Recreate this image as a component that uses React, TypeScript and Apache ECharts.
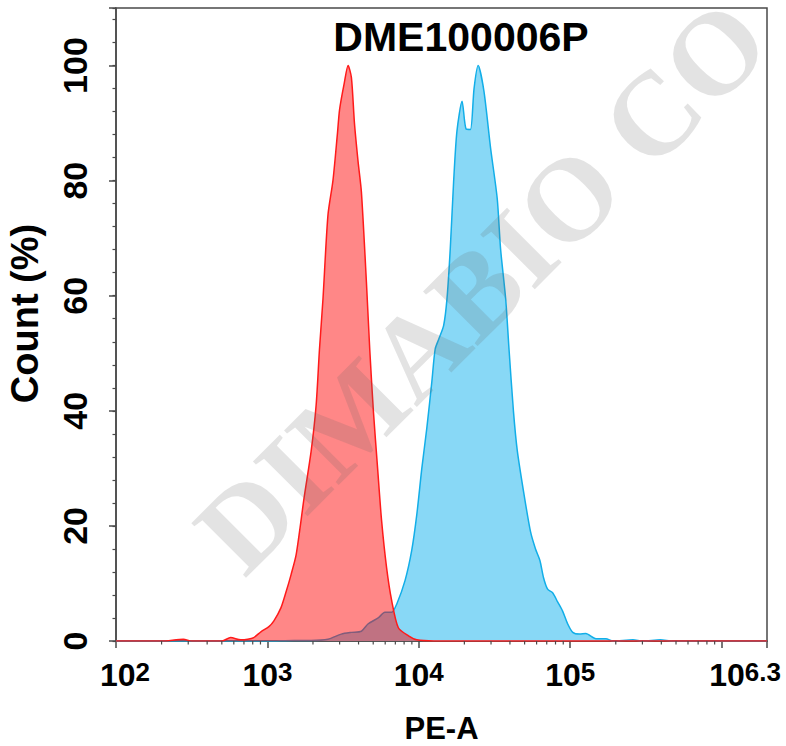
import React, { useEffect, useRef } from 'react';
import * as echarts from 'echarts';

// x values are log10(PE-A); y values are Count (%)
const redLog = [2.0, 2.3, 2.445, 2.5, 2.56, 2.7, 2.757, 2.824, 2.87, 2.91, 2.957, 3.01, 3.043, 3.09, 3.123, 3.156, 3.19, 3.243, 3.289, 3.322, 3.344, 3.367, 3.4, 3.433, 3.462, 3.477, 3.508, 3.533, 3.555, 3.575, 3.599, 3.621, 3.654, 3.676, 3.7, 3.728, 3.754, 3.787, 3.821, 3.865, 3.932, 3.987, 4.1, 5.0, 6.3];
const redCount = [0, 0, 0.3, 0, 0, 0, 0.6, 0.2, 0.3, 0.6, 1.6, 2.5, 3.5, 5.8, 8.5, 11.5, 15, 25, 33, 41, 50.7, 59.4, 74, 80, 88, 92.4, 97, 100, 97.9, 90, 83.3, 78, 62.4, 50.7, 40, 30, 21, 12.8, 7, 2.3, 0.9, 0.2, 0, 0, 0];

const blueLog = [2.0, 3.0, 3.176, 3.289, 3.4, 3.488, 3.555, 3.621, 3.666, 3.732, 3.776, 3.821, 3.854, 3.909, 3.953, 3.987, 4.02, 4.053, 4.086, 4.108, 4.131, 4.164, 4.186, 4.208, 4.23, 4.252, 4.286, 4.312, 4.341, 4.365, 4.392, 4.43, 4.474, 4.518, 4.54, 4.574, 4.596, 4.625, 4.651, 4.698, 4.738, 4.771, 4.8, 4.824, 4.851, 4.884, 4.917, 4.95, 4.983, 5.017, 5.061, 5.103, 5.17, 5.236, 5.282, 5.415, 5.48, 5.595, 5.68, 6.3];
const blueCount = [0, 0, 0.1, 0.1, 0.3, 1.2, 1.5, 1.7, 3, 4, 5, 5, 6.4, 10.5, 15.7, 22, 30, 37, 45, 50.7, 52.4, 54.8, 59.4, 68.2, 79.8, 88.6, 93.8, 89, 88.9, 96, 100, 95.6, 85.7, 76.9, 68.2, 59.4, 50.7, 40, 33, 25, 19, 16, 14, 11, 9, 8.4, 6.8, 5.2, 3, 1.5, 1.2, 1.3, 0.4, 0.4, 0, 0.2, 0, 0.2, 0, 0];

const xMin = 2;
const xMax = 6.3;
const yMax = 110;
const minorDecades = [2, 3, 4, 5];
const minorMultipliers = [2, 3, 4, 5, 6, 7, 8, 9];

const title = 'DME100006P';
const xName = 'PE-A';
const yName = 'Count (%)';
const watermark = 'DIMABIO CO';

const FONT = 'Liberation Sans, Arial, sans-serif';
const AXIS_COLOR = '#4a4a4a';

export default function App() {
  const ref = useRef<HTMLDivElement>(null);

  useEffect(() => {
    if (!ref.current) return;
    const chart = echarts.init(ref.current, null, { renderer: 'svg' });

    const minorX: number[][] = [];
    minorDecades.forEach((d) => {
      minorMultipliers.forEach((m) => {
        minorX.push([d + Math.log10(m), 0]);
      });
    });

    const option: any = {
      animation: false,
      backgroundColor: '#fff',
      title: {
        text: title,
        left: 456,
        top: 11,
        textAlign: 'center',
        textStyle: { fontSize: 41, fontWeight: 'bold', fontFamily: FONT, color: '#000' },
      },
      grid: {
        left: 116,
        right: 19,
        top: 8,
        bottom: 105,
        show: true,
        containLabel: false,
        outerBoundsMode: 'none',
        borderColor: AXIS_COLOR,
        borderWidth: 1.5,
        backgroundColor: 'transparent',
      },
      xAxis: {
        type: 'value',
        min: xMin,
        max: xMax,
        interval: 1,
        name: xName,
        nameLocation: 'middle',
        nameGap: 72,
        nameTextStyle: { fontSize: 31, fontWeight: 'bold', fontFamily: FONT, color: '#000' },
        splitLine: { show: false },
        axisLine: { show: true, lineStyle: { color: AXIS_COLOR, width: 1.5 } },
        axisTick: { show: true, length: 7, lineStyle: { color: AXIS_COLOR, width: 1.5 } },
        axisLabel: {
          margin: 18,
          formatter: (v: number) => {
            if (Math.abs(v - 6) < 1e-9) return '';
            if (Math.abs(v - 6.3) < 1e-6) return '{b|10}{sup|6.3}{padR|}';
            const e = String(Math.round(v));
            if (Math.abs(v - 2) < 1e-9) return '{padL|}{b|10}{sup|' + e + '}';
            return '{b|10}{sup|' + e + '}';
          },
          rich: {
            b: { fontSize: 32, fontWeight: 'bold', fontFamily: FONT, color: '#000', lineHeight: 32, verticalAlign: 'bottom' },
            sup: { fontSize: 26, fontWeight: 'bold', fontFamily: FONT, color: '#000', lineHeight: 26, padding: [0, 0, 22, 0], verticalAlign: 'top' },
            padL: { width: 18 },
            padR: { width: 44 },
          },
        },
      },
      yAxis: [
        {
          type: 'value',
          min: 0,
          max: yMax,
          interval: 20,
          name: yName,
          nameLocation: 'middle',
          nameGap: 72,
          nameTextStyle: { fontSize: 38, fontWeight: 'bold', fontFamily: FONT, color: '#000', padding: [0, 0, 0, 22] },
          splitLine: { show: false },
          axisLine: { show: true, lineStyle: { color: AXIS_COLOR, width: 1.5 } },
          axisTick: { show: true, length: 7, lineStyle: { color: AXIS_COLOR, width: 1.5 } },
          axisLabel: {
            rotate: 90,
            margin: 24,
            fontSize: 34,
            fontWeight: 'bold',
            fontFamily: FONT,
            color: '#000',
            formatter: (v: number) => (v > 100 ? '' : String(v)),
          },
        },
        {
          type: 'value',
          min: 0,
          max: yMax,
          interval: 4,
          position: 'left',
          offset: 0,
          splitLine: { show: false },
          axisLine: { show: false },
          axisTick: { show: true, length: 3.5, lineStyle: { color: AXIS_COLOR, width: 1.2 } },
          axisLabel: { show: false },
        },
      ],
      series: [
        {
          type: 'line',
          name: 'sample',
          data: blueLog.map((x, i) => [x, blueCount[i]]),
          showSymbol: false,
          smooth: 0.25,
          z: 2,
          lineStyle: { color: '#12aee8', width: 1.5 },
          areaStyle: { color: '#88d8f6', opacity: 1 },
        },
        {
          type: 'line',
          name: 'control',
          data: redLog.map((x, i) => [x, redCount[i]]),
          showSymbol: false,
          smooth: 0.25,
          z: 3,
          lineStyle: { color: '#ff1a1a', width: 1.5 },
          areaStyle: { color: 'rgba(255,0,0,0.47)', opacity: 1 },
        },
        {
          type: 'custom',
          name: 'minorTicks',
          data: minorX,
          clip: false,
          silent: true,
          z: 10,
          encode: { x: 0, y: 1 },
          renderItem: (params: any, api: any) => {
            const p = api.coord([api.value(0), 0]);
            return {
              type: 'line',
              shape: { x1: p[0], y1: p[1], x2: p[0], y2: p[1] + 3.5 },
              style: { stroke: AXIS_COLOR, lineWidth: 1.2 },
            };
          },
        },
      ],
      graphic: [
        {
          type: 'text',
          x: 482,
          y: 286,
          rotation: Math.PI / 4,
          z: 100,
          silent: true,
          style: {
            text: watermark,
            font: 'bold 118px "Liberation Serif", "Times New Roman", serif',
            fill: 'rgba(100,100,100,0.18)',
            textAlign: 'center',
            textVerticalAlign: 'middle',
          },
        },
      ],
    };

    chart.setOption(option);
    return () => chart.dispose();
  }, []);

  return <div ref={ref} style={{ width: 786, height: 746, position: 'absolute', left: 0, top: 0 }} />;
}
